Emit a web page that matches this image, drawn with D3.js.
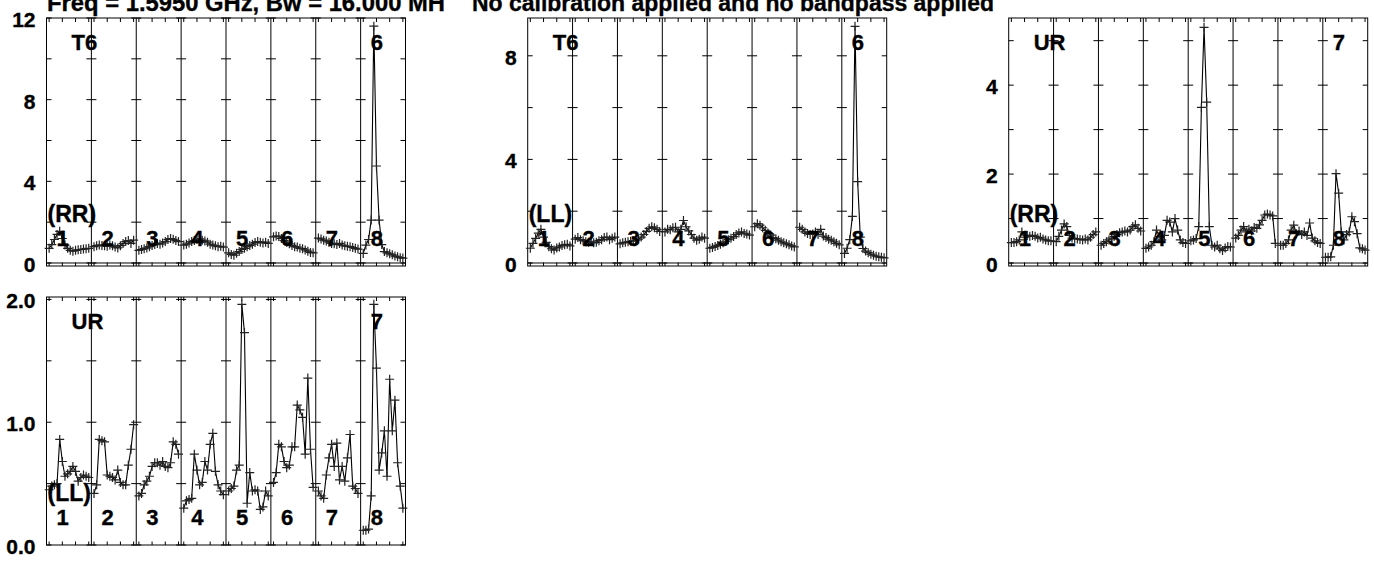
<!DOCTYPE html>
<html>
<head>
<meta charset="utf-8">
<script src="https://cdn.jsdelivr.net/npm/d3@7"></script>
<style>
  html, body { margin: 0; padding: 0; background: #fff; }
  svg { display: block; font-family: "Liberation Sans", Arial, Helvetica, sans-serif; font-weight: bold; }
  svg text { fill: #000; stroke: #000; stroke-width: 0.35px; }
</style>
</head>
<body>
<svg id="chart" width="1374" height="561"></svg>
<script>
// ---- header text ----
const titleLeft = "Freq = 1.5950 GHz, Bw = 16.000 MH";
const titleRight = "No calibration applied and no bandpass applied";

// ---- IF numbers (8 IFs per spectrum) ----
const ifNumbers = ["1", "2", "3", "4", "5", "6", "7", "8"];

// ---- amplitude spectra, one row per IF, 16 channels each ----
const t6RR = [
  [0.72,0.90,1.15,1.40,1.55,1.20,0.88,0.72,0.62,0.58,0.62,0.65,0.66,0.68,0.70,0.72],
  [0.80,0.85,0.88,0.86,0.84,0.82,0.88,0.84,0.78,0.74,0.85,0.95,1.05,1.10,0.96,1.12],
  [0.62,0.66,0.70,0.74,0.80,0.86,0.90,0.96,0.92,0.98,1.05,1.15,1.20,1.16,1.10,1.05],
  [0.88,0.92,0.98,1.05,1.10,1.15,1.18,1.12,1.08,1.02,0.92,0.88,0.84,0.80,0.82,0.78],
  [0.50,0.42,0.38,0.48,0.56,0.66,0.72,0.80,0.86,0.92,1.00,1.05,1.02,0.98,1.02,0.96],
  [1.28,1.32,1.30,1.20,1.10,1.02,0.94,0.86,0.80,0.78,0.72,0.70,0.64,0.58,0.52,0.50],
  [1.22,1.18,1.12,1.08,1.02,0.96,0.94,0.90,0.96,0.88,0.84,0.82,0.80,0.76,0.72,0.68],
  [0.47,0.88,1.15,2.10,11.6,4.75,2.10,0.90,0.56,0.50,0.45,0.40,0.34,0.30,0.26,0.24]
];
const t6LL = [
  [0.57,0.76,0.95,1.15,1.30,1.00,0.80,0.63,0.55,0.50,0.58,0.62,0.68,0.70,0.72,0.66],
  [0.92,0.98,0.90,0.86,0.82,0.80,0.84,0.78,0.80,0.86,0.90,0.98,1.00,0.90,0.96,1.00],
  [0.74,0.78,0.80,0.82,0.84,0.86,0.88,0.92,1.00,1.10,1.22,1.34,1.40,1.36,1.30,1.22],
  [1.20,1.30,1.28,1.36,1.38,1.20,1.30,1.64,1.40,1.24,1.10,0.96,0.88,0.92,1.00,0.96],
  [0.57,0.60,0.64,0.68,0.72,0.78,0.84,0.90,0.96,1.02,1.10,1.16,1.20,1.14,1.12,1.08],
  [1.40,1.52,1.46,1.36,1.26,1.16,1.08,0.98,0.94,0.88,0.82,0.78,0.74,0.70,0.66,0.62],
  [1.38,1.30,1.20,1.14,1.10,1.12,1.20,1.10,1.30,1.04,0.98,0.92,0.88,0.82,0.76,0.70],
  [0.37,0.57,0.90,1.80,9.14,3.14,1.00,0.56,0.46,0.40,0.34,0.30,0.26,0.24,0.22,0.20]
];
const urRR = [
  [0.46,0.46,0.48,0.52,0.70,0.58,0.62,0.60,0.62,0.60,0.56,0.58,0.54,0.52,0.50,0.50],
  [0.48,0.60,0.74,0.88,0.82,0.62,0.56,0.55,0.54,0.53,0.52,0.54,0.52,0.58,0.64,0.70],
  [0.40,0.44,0.48,0.52,0.56,0.60,0.64,0.68,0.70,0.72,0.70,0.74,0.82,0.86,0.78,0.72],
  [0.33,0.36,0.40,0.48,0.74,0.60,0.52,0.62,0.96,0.92,0.70,1.00,0.74,0.52,0.46,0.44],
  [0.50,0.52,0.55,0.82,3.50,5.30,3.62,0.82,0.40,0.36,0.40,0.32,0.28,0.34,0.37,0.36],
  [0.56,0.62,0.74,0.82,0.70,0.76,0.72,0.80,0.78,0.86,0.96,1.08,1.10,1.08,1.06,0.44],
  [0.40,0.40,0.44,0.52,0.74,0.85,0.66,0.72,0.64,0.70,0.62,0.90,0.56,0.50,0.46,0.44],
  [0.13,0.13,0.14,0.40,2.01,1.57,0.70,0.52,0.64,0.70,1.04,0.93,0.66,0.34,0.32,0.29]
];
const urLL = [
  [0.45,0.48,0.49,0.50,0.86,0.68,0.56,0.58,0.60,0.64,0.60,0.52,0.55,0.57,0.56,0.55],
  [0.42,0.49,0.86,0.85,0.84,0.57,0.56,0.55,0.53,0.61,0.51,0.49,0.49,0.65,0.78,0.98],
  [0.40,0.42,0.49,0.52,0.56,0.64,0.67,0.67,0.65,0.68,0.64,0.63,0.67,0.84,0.82,0.74],
  [0.30,0.36,0.37,0.38,0.74,0.61,0.49,0.51,0.68,0.61,0.82,0.91,0.60,0.49,0.44,0.41],
  [0.44,0.46,0.48,0.61,0.65,1.96,1.73,0.34,0.59,0.44,0.45,0.44,0.29,0.31,0.44,0.40],
  [0.51,0.59,0.82,0.80,0.68,0.63,0.65,0.80,0.80,1.14,1.10,1.04,0.74,1.36,0.78,0.47],
  [0.44,0.40,0.38,0.57,0.71,0.82,0.64,0.83,0.53,0.64,0.52,0.71,0.90,0.48,0.46,0.42],
  [0.12,0.12,0.13,0.40,1.96,1.44,0.61,0.75,0.93,0.56,1.35,0.93,1.18,0.67,0.48,0.30]
];

// ---- y axis limits and ticks ----
const yRangeT6RR = [-0.147, 12.0];
const yRangeT6LL = [-0.116, 9.46];
const yRangeUrRR = [-0.067, 5.51];
const yRangeUrLL = [0, 2.02];

const yLabelsT6RR = [0, 4, 8, 12];
const yMinorT6RR  = [2, 6, 10];
const yLabelsT6LL = [0, 4, 8];
const yMinorT6LL  = [2, 6];
const yLabelsUrRR = [0, 2, 4];
const yMinorUrRR  = [1, 3, 5];
const yLabelsUrLL = [0, 1, 2];
const yMinorUrLL  = [0.5, 1.5];

// ---- panel labels ----
const baselineNames = ["T6", "T6", "UR", "UR"];
const antennaNums   = ["6", "6", "7", "7"];
const stokesNames   = ["(RR)", "(LL)", "(RR)", "(LL)"];

// ---- layout ----
const svg = d3.select("#chart");
const panelW = 359;
const topRow = [18, 266], botRow = [297, 545];
const nIF = ifNumbers.length;
const slotsPerIF = 17;   // channels sit at slots 1..16 inside each IF

const panels = [
  { data: t6RR, x0: 46.5,   rows: topRow, yr: yRangeT6RR, major: yLabelsT6RR, minor: yMinorT6RR, fmt: d3.format("d") },
  { data: t6LL, x0: 527.7,  rows: topRow, yr: yRangeT6LL, major: yLabelsT6LL, minor: yMinorT6LL, fmt: d3.format("d") },
  { data: urRR, x0: 1008.7, rows: topRow, yr: yRangeUrRR, major: yLabelsUrRR, minor: yMinorUrRR, fmt: d3.format("d") },
  { data: urLL, x0: 46.5,   rows: botRow, yr: yRangeUrLL, major: yLabelsUrLL, minor: yMinorUrLL, fmt: d3.format(".1f") }
];

// title, running off the top edge of the page
svg.append("text").attr("x", 47).attr("y", 11).attr("font-size", 23.5)
  .attr("textLength", 398).attr("lengthAdjust", "spacingAndGlyphs").text(titleLeft);
svg.append("text").attr("x", 472).attr("y", 11).attr("font-size", 23.5)
  .attr("textLength", 522).attr("lengthAdjust", "spacingAndGlyphs").text(titleRight);

panels.forEach((p, pi) => {
  const g = svg.append("g");
  const [yTop, yBot] = p.rows;
  const x = d3.scaleLinear().domain([0, nIF * slotsPerIF]).range([p.x0, p.x0 + panelW]);
  const y = d3.scaleLinear().domain(p.yr).range([yBot, yTop]);
  const ifStart = k => x(k * slotsPerIF);

  // frame
  g.append("rect")
    .attr("x", p.x0).attr("y", yTop).attr("width", panelW).attr("height", yBot - yTop)
    .attr("fill", "none").attr("stroke", "#000").attr("stroke-width", 1);

  // zero line
  if (p.yr[0] < 0) {
    g.append("line").attr("x1", p.x0).attr("x2", p.x0 + panelW)
      .attr("y1", y(0)).attr("y2", y(0)).attr("stroke", "#000").attr("stroke-width", 1);
  }

  // IF separators
  d3.range(1, nIF).forEach(k => {
    g.append("line").attr("x1", ifStart(k)).attr("x2", ifStart(k))
      .attr("y1", yTop).attr("y2", yBot).attr("stroke", "#000").attr("stroke-width", 1);
  });

  // channel ticks on top and bottom edges (every 5 channels)
  const chanTicks = [];
  d3.range(nIF).forEach(k => [1, 6, 11, 16].forEach(s => chanTicks.push(k * slotsPerIF + s)));
  chanTicks.forEach(t => {
    g.append("line").attr("x1", x(t)).attr("x2", x(t)).attr("y1", yTop).attr("y2", yTop + 4)
      .attr("stroke", "#000").attr("stroke-width", 1);
    g.append("line").attr("x1", x(t)).attr("x2", x(t)).attr("y1", yBot).attr("y2", yBot - 3.5)
      .attr("stroke", "#000").attr("stroke-width", 1);
  });

  // amplitude ticks on frame sides and across every separator
  p.major.concat(p.minor).forEach(v => {
    const yy = y(v);
    g.append("line").attr("x1", p.x0).attr("x2", p.x0 + 5).attr("y1", yy).attr("y2", yy).attr("stroke", "#000");
    g.append("line").attr("x1", p.x0 + panelW - 5).attr("x2", p.x0 + panelW).attr("y1", yy).attr("y2", yy).attr("stroke", "#000");
    d3.range(1, nIF).forEach(k => {
      g.append("line").attr("x1", ifStart(k) - 5).attr("x2", ifStart(k) + 5)
        .attr("y1", yy).attr("y2", yy).attr("stroke", "#000");
    });
  });

  // amplitude labels
  p.major.forEach(v => {
    g.append("text").attr("x", p.x0 - 11).attr("y", y(v) + 9)
      .attr("text-anchor", "end").attr("font-size", 21)
      .text(p.fmt(v));
  });

  // spectra: one polyline per IF plus a "+" at every channel
  const line = d3.line().x(d => d[0]).y(d => d[1]);
  p.data.forEach((chans, k) => {
    const pts = chans.map((v, c) => [x(k * slotsPerIF + c + 1), y(v)]);
    g.append("path").attr("d", line(pts)).attr("fill", "none")
      .attr("stroke", "#000").attr("stroke-width", 1.1);
    pts.forEach(([px, py]) => {
      g.append("path").attr("d", `M${px - 4.5},${py}H${px + 4.5}M${px},${py - 4.5}V${py + 4.5}`)
        .attr("stroke", "#222").attr("stroke-width", 1.2).attr("fill", "none");
    });
  });

  // labels: baseline, antenna, stokes, IF numbers
  const numBase = yBot - 20;
  g.append("text").attr("x", ifStart(0) + 25).attr("y", yTop + 32)
    .attr("font-size", 22).text(baselineNames[pi]);
  g.append("text").attr("x", ifStart(nIF - 1) + 10).attr("y", yTop + 32)
    .attr("font-size", 22).text(antennaNums[pi]);
  g.append("text").attr("x", ifStart(0) + 1).attr("y", numBase - 24)
    .attr("font-size", 23).text(stokesNames[pi]);
  ifNumbers.forEach((n, k) => {
    g.append("text").attr("x", ifStart(k) + 10).attr("y", numBase)
      .attr("font-size", 22).text(n);
  });
});
</script>
</body>
</html>
